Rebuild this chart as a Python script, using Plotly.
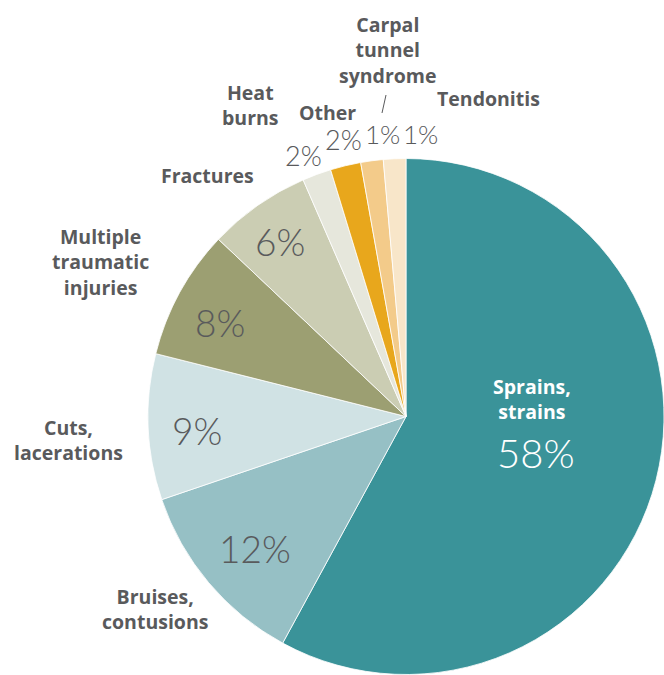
import plotly.graph_objects as go

# ---- data ----
categories = ["Sprains, strains", "Bruises, contusions", "Cuts, lacerations",
              "Multiple traumatic injuries", "Fractures", "Heat burns", "Other",
              "Carpal tunnel syndrome", "Tendonitis"]
shares = [57.7, 11.8, 9.1, 8.1, 6.4, 1.8, 1.9, 1.4, 1.4]   # slice sizes
pct_labels = ["58%", "12%", "9%", "8%", "6%", "2%", "2%", "1%", "1%"]
colors = ["#3a9399", "#96c0c5", "#d0e2e4", "#9c9f72", "#cbcdb3",
          "#e6e7dc", "#e8a71c", "#f3cb8a", "#f8e6c9"]

W, H = 664, 675
def px(x):
    return x / W
def py(y):
    return 1 - y / H

fig = go.Figure(go.Pie(
    labels=categories, values=shares, sort=False, direction="clockwise", rotation=0,
    marker=dict(colors=colors, line=dict(color="white", width=0.8)),
    textinfo="none", hoverinfo="label+percent",
    domain=dict(x=[px(148), px(664)], y=[py(675), py(158)]),
))

GREY = "#595a5c"
BOLD = dict(family="'Open Sans', Lato, sans-serif", size=19.5, color=GREY, weight=700)

# name labels (multi-line), centre positions in px
name_labels = [
    ("Carpal<br>tunnel<br>syndrome", 388, 50),
    ("Tendonitis", 488, 98),
    ("Heat<br>burns", 250, 105),
    ("Other", 327, 112),
    ("Fractures", 207, 176),
    ("Multiple<br>traumatic<br>injuries", 100, 262),
    ("Cuts,<br>lacerations", 68, 440),
    ("Bruises,<br>contusions", 155, 609),
]
annotations = []
for t, x, y in name_labels:
    annotations.append(dict(text=t, x=px(x), y=py(y), xref="paper", yref="paper",
                            showarrow=False, xanchor="center", yanchor="middle",
                            align="center", font=BOLD))

# sprains label in white
annotations.append(dict(text="Sprains,<br>strains", x=px(532), y=py(399),
                        xref="paper", yref="paper", showarrow=False,
                        xanchor="center", yanchor="middle", align="center",
                        font=dict(BOLD, color="white")))

# percentage labels
pct_pos = [(536, 453, 40, "white"), (255, 548, 37, GREY), (197, 430, 37, GREY),
           (220, 322, 37, GREY), (280, 242, 37, GREY), (303, 155, 27, GREY),
           (343, 140, 27, GREY), (382, 134, 26, GREY), (420, 134, 26, GREY)]
for lab, (x, y, s, c) in zip(pct_labels, pct_pos):
    annotations.append(dict(text=lab, x=px(x), y=py(y), xref="paper", yref="paper",
                            showarrow=False, xanchor="center", yanchor="middle",
                            font=dict(family="Lato, 'Open Sans', sans-serif", size=s,
                                      color=c, weight=300)))

fig.update_layout(
    width=W, height=H, margin=dict(l=0, r=0, t=0, b=0),
    paper_bgcolor="white", plot_bgcolor="white", showlegend=False,
    annotations=annotations,
    shapes=[dict(type="line", xref="paper", yref="paper",
                 x0=px(386), y0=py(95), x1=px(382), y1=py(113),
                 line=dict(color=GREY, width=1))],
)

fig.write_html("out.html", config={"displayModeBar": False},
               post_script="document.body.style.margin='0';document.body.style.overflow='hidden';")
